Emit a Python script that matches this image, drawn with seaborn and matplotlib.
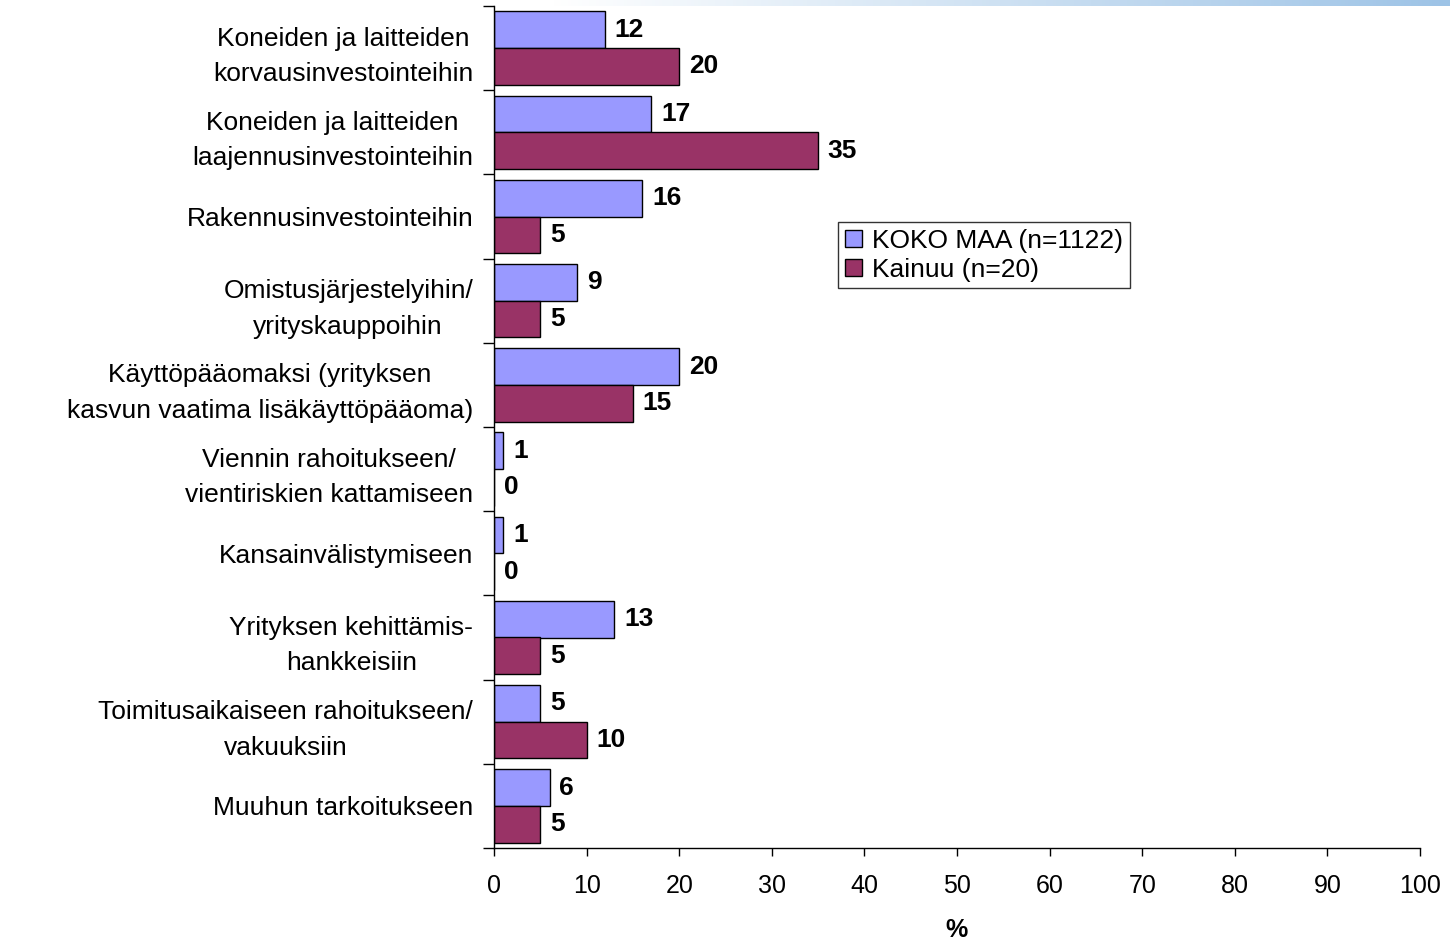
import numpy as np
import pandas as pd
import matplotlib.pyplot as plt
import seaborn as sns

# data
categories = [
    "Koneiden ja laitteiden\nkorvausinvestointeihin",
    "Koneiden ja laitteiden\nlaajennusinvestointeihin",
    "Rakennusinvestointeihin",
    "Omistusjärjestelyihin/\nyrityskauppoihin",
    "Käyttöpääomaksi (yrityksen\nkasvun vaatima lisäkäyttöpääoma)",
    "Viennin rahoitukseen/\nvientiriskien kattamiseen",
    "Kansainvälistymiseen",
    "Yrityksen kehittämis-\nhankkeisiin",
    "Toimitusaikaiseen rahoitukseen/\nvakuuksiin",
    "Muuhun tarkoitukseen",
]
series_names = ["KOKO MAA (n=1122)", "Kainuu (n=20)"]
koko_maa = [12, 17, 16, 9, 20, 1, 1, 13, 5, 6]
kainuu = [20, 35, 5, 5, 15, 0, 0, 5, 10, 5]
x_ticks = list(range(0, 101, 10))

df = pd.DataFrame({
    "kategoria": categories * 2,
    "sarja": [series_names[0]] * len(categories) + [series_names[1]] * len(categories),
    "arvo": koko_maa + kainuu,
})

sns.set_theme(style="white")
plt.rcParams['font.family'] = ['Liberation Sans', 'DejaVu Sans']
for key in ["text.color", "axes.labelcolor", "xtick.color", "ytick.color"]:
    plt.rcParams[key] = "black"

fig = plt.figure(figsize=(14.5, 9.39), dpi=100)
ax = fig.add_axes([494 / 1450, 1 - 848 / 939, (1420 - 494) / 1450, (848 - 6) / 939])

sns.barplot(data=df, y="kategoria", x="arvo", hue="sarja", orient="h",
            palette=["#9999FF", "#993366"], width=0.87, saturation=1,
            edgecolor="black", linewidth=1, ax=ax)

for cont in ax.containers:
    ax.bar_label(cont, padding=7, fontsize=19, fontweight="bold", color="black")

ax.set_xlim(0, 100)
ax.set_xticks(x_ticks)
ax.set_xticklabels([str(t) for t in x_ticks], fontsize=18)
ax.set_xlabel("%", fontsize=18, fontweight="bold", labelpad=14)
ax.set_ylabel("")
ax.tick_params(axis="y", which="major", length=0, labelsize=19, pad=15)
ax.set_yticks(np.arange(-0.5, len(categories), 1), minor=True)
ax.tick_params(axis="y", which="minor", length=8, width=1, color="black", direction="out", left=True)
ax.tick_params(axis="x", length=6, width=1, color="black", direction="out", bottom=True, pad=13)
for lab in ax.get_yticklabels():
    lab.set_multialignment("center")
    lab.set_linespacing(1.6)

sns.despine(ax=ax)
ax.spines["left"].set_color("black")
ax.spines["bottom"].set_color("black")
ax.spines["left"].set_linewidth(1)
ax.spines["bottom"].set_linewidth(1)

handles, labels = ax.get_legend_handles_labels()
ax.legend(handles, labels, loc="upper left", bbox_to_anchor=(838 / 1450, 1 - 222 / 939),
          bbox_transform=fig.transFigure, fontsize=19, frameon=True, fancybox=False,
          edgecolor="black", handlelength=0.65, handleheight=0.65, handletextpad=0.4,
          borderpad=0.25, labelspacing=0.2, borderaxespad=0)
ax.get_legend().get_frame().set_linewidth(1)

# light blue strip at top right of the slide
strip = fig.add_axes([550 / 1450, 1 - 6 / 939, 900 / 1450, 6 / 939])
grad = np.linspace(0, 1, 256).reshape(1, -1)
cmap = sns.blend_palette(["#FFFFFF", "#9DC3E6"], as_cmap=True)
strip.imshow(grad, aspect="auto", cmap=cmap)
strip.axis("off")

fig.savefig("out.png", dpi=100)
